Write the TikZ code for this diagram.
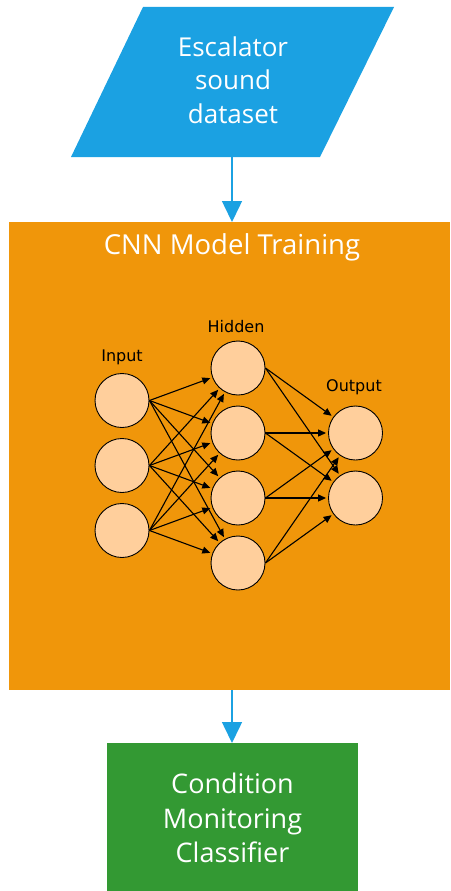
\documentclass[tikz,border=0pt]{standalone}
\usepackage{fontspec}
\setmainfont{Open Sans}
\newfontfamily\nnfont{DejaVu Sans}
\usetikzlibrary{arrows.meta}
\definecolor{dsblue}{HTML}{1BA1E2}
\definecolor{cnnorange}{HTML}{F0960A}
\definecolor{cmgreen}{HTML}{339933}
\definecolor{neuronfill}{HTML}{FFCF9C}
\begin{document}
\begin{tikzpicture}[x=1pt,y=-1pt,
  flowarrow/.style={draw=dsblue, line width=1.5pt, -{Triangle[length=21pt,width=20pt]}},
  bigtext/.style={text=white, font=\fontsize{26}{33.5}\selectfont, align=center, inner sep=0pt},
  neuron/.style={circle, draw=black, fill=neuronfill, line width=0.9pt, minimum size=54pt, inner sep=0pt},
  synapse/.style={draw=black, line width=1.1pt, -{Triangle[length=8pt,width=7pt]}, shorten >=2pt},
  nnlabel/.style={font=\nnfont\fontsize{16}{18}\selectfont, text=black, inner sep=0pt}]
\useasboundingbox (0,0) rectangle (450,891);
% dataset parallelogram
\fill[dsblue] (143,7) -- (394,7) -- (320,157) -- (71,157) -- cycle;
\node[bigtext] (data) at (233,80) {Escalator\\sound\\dataset};
\coordinate (dataout) at (232,157);
% CNN box
\node[fill=cnnorange, minimum width=441pt, minimum height=468pt, inner sep=0pt, anchor=north west] (cnn) at (9,222) {};
\node[bigtext, font=\fontsize{27.5}{30}\selectfont, anchor=base] (cnntitle) at (232,254) {CNN Model Training};
% classifier box
\node[fill=cmgreen, minimum width=251pt, minimum height=160pt, inner sep=0pt, anchor=north west] (clf) at (107,743) {};
\node[bigtext, font=\fontsize{27}{34.5}\selectfont] (clftext) at (232.5,818) {Condition\\Monitoring\\Classifier};
% flow arrows
\draw[flowarrow] (dataout) -- (dataout |- cnn.north);
\draw[flowarrow] (dataout |- cnn.south) -- (dataout |- clf.north);
% neural network
\node[neuron] (i1) at (122,400.5) {};
\node[neuron] (i2) at (122,465.5) {};
\node[neuron] (i3) at (122,530.5) {};
\node[neuron] (h1) at (238,368) {};
\node[neuron] (h2) at (238,433) {};
\node[neuron] (h3) at (238,498) {};
\node[neuron] (h4) at (238,563) {};
\node[neuron] (o1) at (355.5,433) {};
\node[neuron] (o2) at (355.5,498) {};
\node[nnlabel] (lin) at (122,357.5) {Input};
\node[nnlabel] (lhid) at (236,327) {Hidden};
\node[nnlabel] (lout) at (354,387) {Output};
\foreach \i in {1,2,3} \foreach \h in {1,2,3,4} \draw[synapse] (i\i.east) -- (h\h);
\foreach \h in {1,2,3,4} \foreach \o in {1,2} \draw[synapse] (h\h.east) -- (o\o);
\end{tikzpicture}
\end{document}
